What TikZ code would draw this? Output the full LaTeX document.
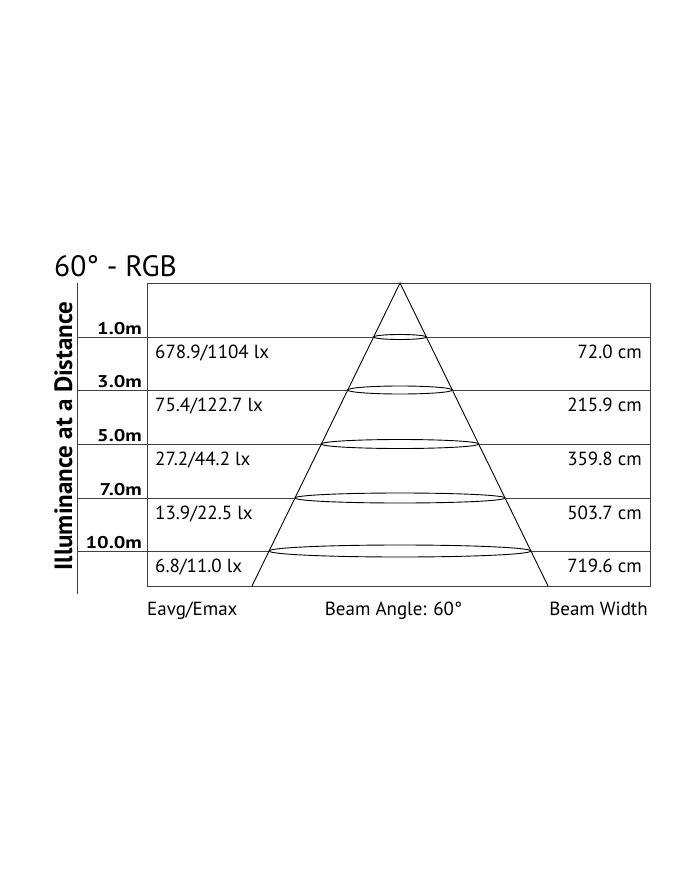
\documentclass[tikz,border=0pt]{standalone}
\usepackage{fontspec}
\setmainfont{PT Sans}
\newfontfamily\distfont[FakeStretch=1.2]{PT Sans Bold}
\usetikzlibrary{calc}

\begin{document}
\begin{tikzpicture}[x = 1pt, y = -1pt]
    \tikzset{
        grid line/.style = {line width = 1pt, black!75},
        beam/.style = {line width = 0.9pt, black},
        dist/.style = {font = \fontsize{17}{20}\distfont, anchor = base east, inner sep = 0pt},
        val/.style = {font = \fontsize{19}{22}\selectfont, inner sep = 0pt},
    }
    \useasboundingbox (0,0) rectangle (700,869);

    \def \rowY{{337, 390, 444, 498, 551}}
    \def \rowH{{2.5, 4, 4.5, 5, 6}}
    \def \rowDist{{"1.0m","3.0m","5.0m","7.0m","10.0m"}}
    \def \rowLux{{"678.9/1104 lx","75.4/122.7 lx","27.2/44.2 lx","13.9/22.5 lx","6.8/11.0 lx"}}
    \def \rowWidth{{"72.0 cm","215.9 cm","359.8 cm","503.7 cm","719.6 cm"}}

    % frame and axis
    \coordinate (apex) at (400,283);
    \coordinate (baseL) at (252,586);
    \coordinate (baseR) at (548,586);
    \coordinate (axisTop) at (77,283);
    \coordinate (axisBot) at (77,594);
    \draw[grid line] (147,283) rectangle (650,586);
    \draw[grid line] (axisTop) -- (axisBot);
    \draw[beam] (baseL) -- (apex) -- (baseR);

    \foreach \i in {0,...,4}{
        \pgfmathsetmacro\y{\rowY[\i]}
        \pgfmathsetmacro\h{\rowH[\i]}
        \pgfmathsetmacro\dx{(\y-283)/303*148}
        \coordinate (axis\i) at (77,\y);
        \coordinate (coneL\i) at (400-\dx,\y);
        \coordinate (coneR\i) at (400+\dx,\y);
        \coordinate (edge\i) at (650,\y);
        \draw[grid line] (axis\i) -- (coneL\i);
        \draw[grid line] (coneR\i) -- (edge\i);
        \draw[beam] (400,\y) ellipse ({\dx} and {\h});

        \pgfmathsetmacro\d{\rowDist[\i]}
        \pgfmathsetmacro\l{\rowLux[\i]}
        \pgfmathsetmacro\w{\rowWidth[\i]}
        \node[dist] (dist\i) at (142,\y-2.5) {\d};
        \node[val, anchor = base west] (lux\i) at (155,\y+21) {\l};
        \node[val, anchor = base east] (width\i) at (642,\y+21) {\w};
    }

    % captions
    \node[font = \fontsize{29.5}{32}\selectfont, anchor = base west, inner sep = 0pt] (title) at (54,276) {60° - RGB};
    \node[font = \fontsize{25}{28}\selectfont\bfseries, anchor = base, rotate = 90, inner sep = 0pt] (axisLabel) at (72,436) {Illuminance at a Distance};
    \node[val, anchor = base west] (luxHead) at (147,615) {Eavg/Emax};
    \node[val, anchor = base] (angleHead) at (393.5,615) {Beam Angle: 60°};
    \node[val, anchor = base east] (widthHead) at (648,615) {Beam Width};
\end{tikzpicture}
\end{document}
